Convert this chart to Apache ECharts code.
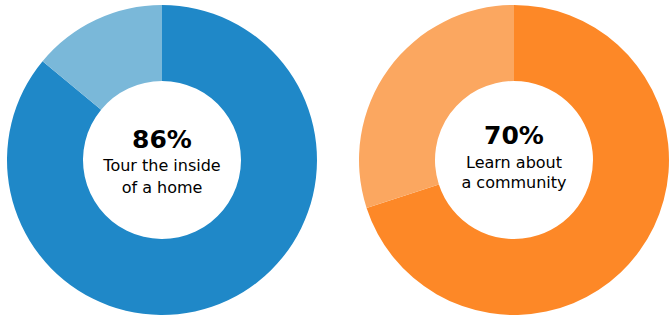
<!DOCTYPE html>
<html>
<head>
<meta charset="utf-8">
<script src="https://cdn.jsdelivr.net/npm/echarts@6/dist/echarts.min.js"></script>
<style>html,body{margin:0;padding:0;background:#fff;}#c{width:670px;height:321px;}</style>
</head>
<body>
<div id="c"></div>
<script>
const percents = [86, 70];
const captions = [["Tour the inside", "of a home"], ["Learn about", "a community"]];
const mainColors = ["#1f88c8", "#fd8827"];
const restColors = ["#7ab8d9", "#fba760"];

const centers = [[162, 160], [514, 160]];
const chart = echarts.init(document.getElementById('c'), null, {renderer: 'svg'});
const series = percents.map((p, i) => ({
  type: 'pie',
  center: centers[i],
  radius: [79, 155],
  startAngle: 90,
  clockwise: true,
  silent: true,
  label: {show: false},
  labelLine: {show: false},
  itemStyle: {borderWidth: 0},
  data: [
    {value: p, itemStyle: {color: mainColors[i]}},
    {value: 100 - p, itemStyle: {color: restColors[i]}}
  ]
}));
const graphic = [];
const offsets = [[139, 165, 187], [135, 162, 182]];
percents.forEach((p, i) => {
  graphic.push({type: 'text', x: centers[i][0], y: offsets[i][0], style: {text: p + '%', font: 'bold 25px "DejaVu Sans"', fill: '#000', textAlign: 'center', textVerticalAlign: 'middle'}});
  captions[i].forEach((t, j) => {
    graphic.push({type: 'text', x: centers[i][0], y: offsets[i][j + 1], style: {text: t, font: '16px "DejaVu Sans"', fill: '#000', textAlign: 'center', textVerticalAlign: 'middle'}});
  });
});
chart.setOption({animation: false, series, graphic});
</script>
</body>
</html>
